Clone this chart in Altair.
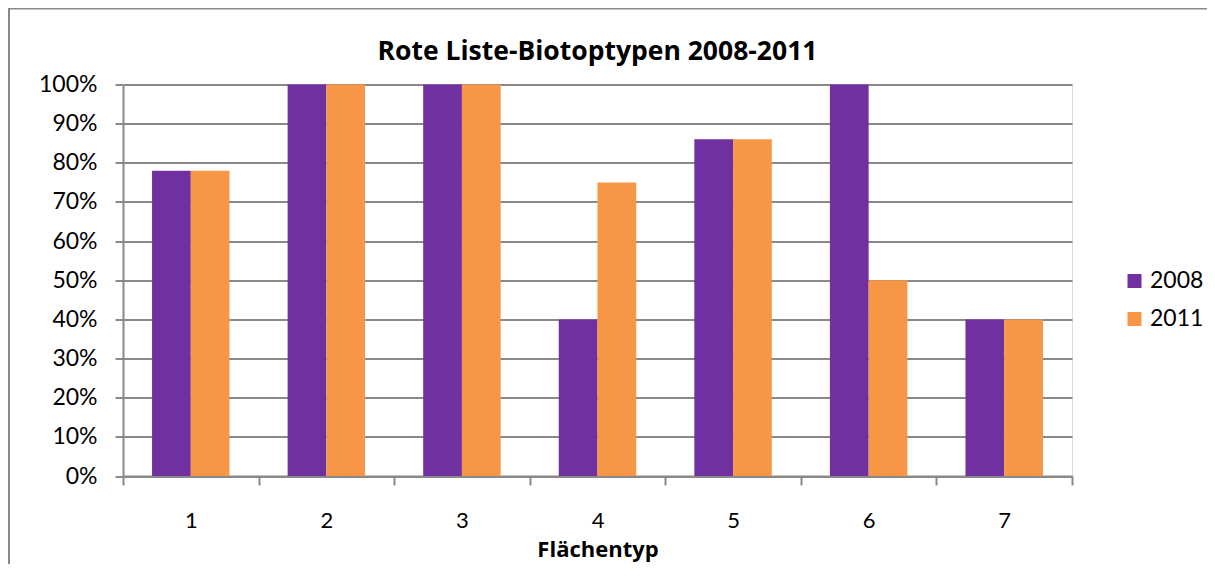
import altair as alt
import pandas as pd

categories = ["1", "2", "3", "4", "5", "6", "7"]
values_2008 = [0.78, 1.00, 1.00, 0.40, 0.86, 1.00, 0.40]
values_2011 = [0.78, 1.00, 1.00, 0.75, 0.86, 0.50, 0.40]
years = ["2008", "2011"]
colors = ["#7030A0", "#F79646"]
y_ticks = [0, 0.1, 0.2, 0.3, 0.4, 0.5, 0.6, 0.7, 0.8, 0.9, 1.0]
title_text = "Rote Liste-Biotoptypen 2008-2011"

rows = []
for c, a, b in zip(categories, values_2008, values_2011):
    rows.append({"Flächentyp": c, "Jahr": years[0], "Anteil": a})
    rows.append({"Flächentyp": c, "Jahr": years[1], "Anteil": b})
df = pd.DataFrame(rows)

FONT = "Lato"
BOLD_FONT = "Open Sans"
GRID = "#898989"
W = 949
H = 391.5
PAD = {"left": 115, "top": 76.5, "right": 135, "bottom": 88}

bars = alt.Chart(df).mark_bar().encode(
    x=alt.X(
        "Flächentyp:N",
        sort=categories,
        scale=alt.Scale(paddingInner=0, paddingOuter=0),
        axis=alt.Axis(
            title="Flächentyp",
            labelAngle=0,
            tickBand="extent",
            tickSize=9,
            tickColor=GRID,
            tickWidth=2,
            domainColor=GRID,
            domainWidth=2,
            labelPadding=25,
            labelFontSize=22,
            labelFont=FONT,
            labelColor="#000000",
            titleFont=BOLD_FONT,
            titleFontSize=22,
            titleFontWeight="bold",
            titleColor="#000000",
            titleBaseline="alphabetic",
            titleY=80,
            grid=False,
        ),
    ),
    xOffset=alt.XOffset(
        "Jahr:N",
        sort=years,
        scale=alt.Scale(paddingInner=0, paddingOuter=0.75),
    ),
    y=alt.Y(
        "Anteil:Q",
        scale=alt.Scale(domain=[0, 1], nice=False),
        axis=alt.Axis(
            title=None,
            values=y_ticks,
            format=".0%",
            tickSize=8,
            tickColor=GRID,
            tickWidth=2,
            domainColor=GRID,
            domainWidth=2,
            gridColor=GRID,
            gridWidth=2,
            labelPadding=18,
            labelFontSize=23,
            labelFont=FONT,
            labelColor="#000000",
        ),
    ),
    color=alt.Color(
        "Jahr:N",
        sort=years,
        scale=alt.Scale(domain=years, range=colors),
        legend=alt.Legend(
            title=None,
            orient="none",
            legendX=1000,
            legendY=185,
            symbolType="square",
            symbolSize=196,
            symbolStrokeWidth=0,
            labelFont=FONT,
            labelFontSize=23,
            labelColor="#000000",
            labelOffset=4,
            rowPadding=14,
        ),
    ),
)

one = alt.Data(values=[{}])

frame_top = alt.Chart(one).mark_rule(stroke=GRID, strokeWidth=2).encode(
    x=alt.value(-115), x2=alt.value(W + PAD["right"]), y=alt.value(-76)
)
frame_left = alt.Chart(one).mark_rule(stroke=GRID, strokeWidth=2).encode(
    x=alt.value(-114), y=alt.value(-77), y2=alt.value(H + PAD["bottom"])
)
title = alt.Chart(one).mark_text(
    font=BOLD_FONT, fontSize=26.5, fontWeight="bold", color="#000000",
    align="center", baseline="alphabetic",
).encode(
    x=alt.value(W / 2), y=alt.value(-24.5), text=alt.value(title_text)
)

chart = alt.layer(frame_top, frame_left, title, bars).properties(
    width=W,
    height=H,
    autosize=alt.AutoSizeParams(type="none"),
    padding=PAD,
).configure_view(stroke=None).configure(background="white")

chart.save("out.html", embed_options={"renderer": "svg", "actions": False})
